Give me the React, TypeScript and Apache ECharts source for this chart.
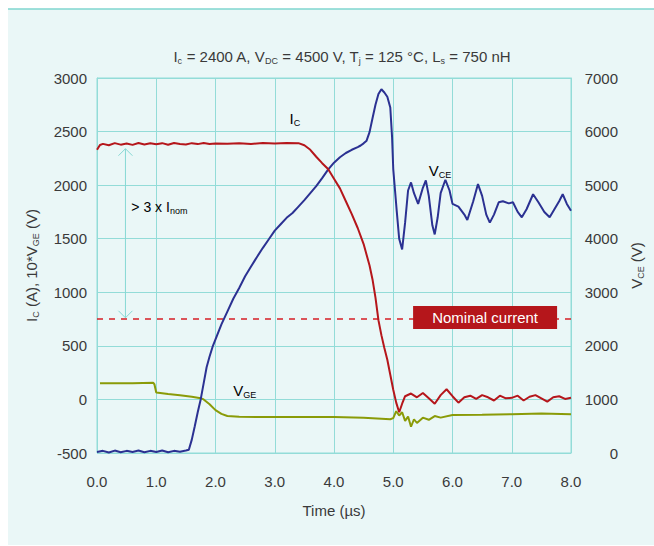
import React, { useEffect, useRef } from "react";
import * as echarts from "echarts";

// ---- Data ----
const timeTicks = [0, 1, 2, 3, 4, 5, 6, 7, 8];

// Collector current Ic (A) – left axis
const icTime = [0.0, 0.05, 0.1, 0.2, 0.3, 0.4, 0.5, 0.6, 0.7, 0.8, 0.9, 1.0, 1.1, 1.2, 1.3, 1.4, 1.5, 1.6, 1.7, 1.8, 1.9, 2.0, 2.2, 2.4, 2.6, 2.8, 3.0, 3.2, 3.4, 3.5, 3.6, 3.7, 3.8, 3.9, 4.0, 4.1, 4.2, 4.3, 4.4, 4.5, 4.6, 4.65, 4.7, 4.75, 4.8, 4.85, 4.9, 4.95, 5.0, 5.05, 5.1, 5.15, 5.2, 5.3, 5.4, 5.5, 5.6, 5.7, 5.8, 5.9, 6.0, 6.1, 6.2, 6.3, 6.4, 6.5, 6.6, 6.7, 6.8, 6.9, 7.0, 7.1, 7.2, 7.3, 7.4, 7.5, 7.6, 7.7, 7.8, 7.9, 8.0];
const icValues = [2330, 2375, 2385, 2372, 2392, 2378, 2388, 2376, 2394, 2380, 2390, 2382, 2392, 2377, 2394, 2384, 2380, 2392, 2383, 2394, 2385, 2389, 2386, 2392, 2384, 2394, 2388, 2394, 2392, 2372, 2330, 2265, 2205, 2150, 2060, 1970, 1850, 1730, 1600, 1450, 1250, 1120, 950, 740, 600, 480, 370, 230, 90, -30, -120, -40, 30, 55, 20, 60, 10, -40, 40, 95, 30, -30, 20, 35, 5, 40, 20, -10, 35, 10, 15, 35, -10, 25, 40, 10, -20, 20, 30, 5, 15];

// 10 x gate voltage VGE (V) – left axis
const vgeTime = [0.05, 0.3, 0.6, 0.95, 0.97, 1.0, 1.2, 1.4, 1.6, 1.75, 1.8, 1.9, 2.0, 2.1, 2.2, 2.4, 3.0, 4.0, 4.5, 4.95, 5.0, 5.05, 5.1, 5.15, 5.2, 5.25, 5.3, 5.35, 5.4, 5.5, 5.6, 5.7, 5.8, 6.0, 6.5, 7.0, 7.5, 8.0];
const vgeValues = [150, 152, 150, 155, 140, 65, 50, 38, 25, 12, 0, -45, -100, -135, -155, -162, -165, -163, -172, -185, -175, -110, -150, -120, -200, -160, -255, -185, -220, -170, -190, -155, -170, -145, -142, -138, -132, -138];

// Collector-emitter voltage VCE (V) – right axis
const vceTime = [0.0, 0.1, 0.2, 0.3, 0.4, 0.5, 0.6, 0.7, 0.8, 0.9, 1.0, 1.1, 1.2, 1.3, 1.4, 1.5, 1.55, 1.6, 1.65, 1.7, 1.75, 1.8, 1.85, 1.9, 1.95, 2.0, 2.1, 2.2, 2.3, 2.4, 2.5, 2.6, 2.7, 2.8, 2.9, 3.0, 3.1, 3.2, 3.3, 3.4, 3.5, 3.6, 3.7, 3.8, 3.9, 4.0, 4.1, 4.2, 4.3, 4.4, 4.45, 4.5, 4.55, 4.6, 4.65, 4.7, 4.75, 4.8, 4.85, 4.9, 4.95, 4.98, 5.0, 5.03, 5.06, 5.1, 5.15, 5.2, 5.25, 5.3, 5.35, 5.42, 5.5, 5.55, 5.6, 5.66, 5.7, 5.75, 5.8, 5.88, 5.95, 6.0, 6.1, 6.2, 6.25, 6.35, 6.43, 6.5, 6.57, 6.63, 6.7, 6.78, 6.85, 6.95, 7.02, 7.1, 7.17, 7.25, 7.36, 7.45, 7.55, 7.64, 7.72, 7.8, 7.86, 7.93, 8.0];
const vceValues = [20, 40, 10, 45, 15, 40, 20, 45, 15, 40, 20, 45, 15, 40, 25, 45, 60, 250, 500, 760, 1000, 1300, 1600, 1800, 1980, 2120, 2400, 2640, 2880, 3080, 3300, 3480, 3660, 3830, 3990, 4150, 4270, 4390, 4480, 4600, 4720, 4850, 4980, 5130, 5290, 5420, 5520, 5600, 5660, 5710, 5740, 5780, 5830, 5990, 6250, 6500, 6700, 6790, 6730, 6650, 6450, 5900, 5300, 4900, 4500, 4000, 3800, 4300, 4900, 5050, 4850, 4650, 4950, 5090, 4800, 4250, 4080, 4400, 4850, 5100, 4900, 4650, 4600, 4450, 4350, 4700, 5020, 4800, 4450, 4300, 4450, 4680, 4700, 4660, 4680, 4500, 4400, 4550, 4830, 4680, 4500, 4400, 4550, 4700, 4830, 4650, 4520];

const nominalCurrent = 750;
const leftTicks = { min: -500, max: 3000, interval: 500 };
const rightTicks = { min: 0, max: 7000, interval: 1000 };

const zip = (t: number[], v: number[]) => t.map((x, i) => [x, v[i]]);

const FONT = "Liberation Sans, Arial, sans-serif";
const TEXT = "#3a3a3a";
const GRID = "#93dcd8";
const RED = "#b5161b";
const BLUE = "#2b3192";
const OLIVE = "#8a9b08";

export default function App() {
  const ref = useRef<HTMLDivElement>(null);
  useEffect(() => {
    if (!ref.current) return;
    const chart = echarts.init(ref.current, undefined, { renderer: "svg" });
    const sub = { fontSize: 9, fontFamily: FONT, color: TEXT, fontWeight: "normal", padding: [9, 0, 0, 0] };
    const base = { fontSize: 15, fontFamily: FONT, color: TEXT, fontWeight: "normal" };
    chart.setOption({
      animation: false,
      backgroundColor: "#ffffff",
      textStyle: { fontFamily: FONT },
      title: {
        left: 337,
        top: 42,
        textAlign: "center",
        text: "{n|I}{s|c}{n| = 2400 A, V}{s|DC}{n| = 4500 V, T}{s|j}{n| = 125 °C, L}{s|s}{n| = 750 nH}",
        textStyle: { fontWeight: "normal", rich: { n: base, s: sub } },
      },
      grid: { left: 97, right: 83, top: 78, bottom: 93, show: true, borderColor: GRID, borderWidth: 1, backgroundColor: "transparent" },
      xAxis: {
        type: "value",
        min: timeTicks[0],
        max: timeTicks[timeTicks.length - 1],
        interval: 1,
        name: "Time (µs)",
        nameLocation: "middle",
        nameGap: 50,
        nameTextStyle: { fontSize: 15, color: TEXT, fontFamily: FONT },
        axisLine: { lineStyle: { color: GRID } },
        axisTick: { show: false },
        axisLabel: { fontSize: 15, color: TEXT, margin: 21, formatter: (v: number) => v.toFixed(1) },
        splitLine: { show: true, lineStyle: { color: GRID, width: 1 } },
      },
      yAxis: [
        {
          type: "value",
          ...leftTicks,
          position: "left",
          name: "{n|I}{s|C}{n| (A), 10*V}{s|GE}{n| (V)}",
          nameLocation: "middle",
          nameRotate: 90,
          nameGap: 57,
          nameTextStyle: { rich: { n: base, s: sub } },
          axisLine: { show: true, lineStyle: { color: GRID } },
          axisTick: { show: false },
          axisLabel: { fontSize: 15, color: TEXT, margin: 10, formatter: (v: number) => String(v) },
          splitLine: { show: true, lineStyle: { color: GRID, width: 1 } },
        },
        {
          type: "value",
          ...rightTicks,
          position: "right",
          name: "{n|V}{s|CE}{n| (V)}",
          nameLocation: "middle",
          nameRotate: 90,
          nameGap: 55,
          nameTextStyle: { rich: { n: base, s: sub } },
          axisLine: { show: true, lineStyle: { color: GRID } },
          axisTick: { show: false },
          axisLabel: { fontSize: 15, color: TEXT, margin: 47, align: "right", formatter: (v: number) => String(v) },
          splitLine: { show: false },
        },
      ],
      series: [
        {
          name: "Nominal current",
          type: "line",
          yAxisIndex: 0,
          data: [[timeTicks[0], nominalCurrent], [timeTicks[timeTicks.length - 1], nominalCurrent]],
          showSymbol: false,
          silent: true,
          lineStyle: { color: "#d61f26", type: [6, 6], width: 1.5 },
          z: 1,
        },
        {
          name: "VGE",
          type: "line",
          yAxisIndex: 0,
          data: zip(vgeTime, vgeValues),
          showSymbol: false,
          lineStyle: { color: OLIVE, width: 2 },
          z: 2,
        },
        {
          name: "VCE",
          type: "line",
          yAxisIndex: 1,
          data: zip(vceTime, vceValues),
          showSymbol: false,
          lineStyle: { color: BLUE, width: 2 },
          z: 3,
        },
        {
          name: "Ic",
          type: "line",
          yAxisIndex: 0,
          data: zip(icTime, icValues),
          showSymbol: false,
          lineStyle: { color: RED, width: 2 },
          z: 4,
        },
      ],
    });

    const px = (x: number, y: number) => chart.convertToPixel({ xAxisIndex: 0, yAxisIndex: 0 }, [x, y]) as number[];
    const pxR = (x: number, y: number) => chart.convertToPixel({ xAxisIndex: 0, yAxisIndex: 1 }, [x, y]) as number[];
    const aTop = px(0.48, 2340);
    const aBot = px(0.48, 762);
    const ah = 7;
    const nomPt = px(6.55, nominalCurrent);
    const icLbl = px(3.25, 2620);
    const vceLbl = pxR(5.6, 5270);
    const vgeLbl = px(2.3, 85);
    const inomLbl = px(0.58, 1800);

    chart.setOption({
      graphic: [
        { type: "rect", z: -10, silent: true, shape: { x: 8, y: 9, width: 646, height: 536 }, style: { fill: "#eaf7f7" } },
        { type: "line", z: -9, silent: true, shape: { x1: 8, y1: 9, x2: 654, y2: 9 }, style: { stroke: "#7fd6cf", lineWidth: 1.5 } },
        { type: "line", silent: true, shape: { x1: aTop[0], y1: aTop[1], x2: aBot[0], y2: aBot[1] }, style: { stroke: "#86d8d4", lineWidth: 1 } },
        { type: "polyline", silent: true, shape: { points: [[aTop[0] - ah, aTop[1] + ah], [aTop[0], aTop[1]], [aTop[0] + ah, aTop[1] + ah]] }, style: { stroke: "#86d8d4", lineWidth: 1, fill: "none" } },
        { type: "polyline", silent: true, shape: { points: [[aBot[0] - ah, aBot[1] - ah], [aBot[0], aBot[1]], [aBot[0] + ah, aBot[1] - ah]] }, style: { stroke: "#86d8d4", lineWidth: 1, fill: "none" } },
        {
          type: "text", silent: true, x: inomLbl[0], y: inomLbl[1],
          style: { text: "{n|> 3 x I}{s|nom}", rich: { n: { ...base, fontSize: 14 }, s: sub }, verticalAlign: "middle" },
        },
        {
          type: "text", silent: true, x: icLbl[0], y: icLbl[1],
          style: { text: "{n|I}{s|C}", rich: { n: base, s: sub }, verticalAlign: "middle" },
        },
        {
          type: "text", silent: true, x: vceLbl[0], y: vceLbl[1],
          style: { text: "{n|V}{s|CE}", rich: { n: base, s: sub }, verticalAlign: "middle" },
        },
        {
          type: "text", silent: true, x: vgeLbl[0], y: vgeLbl[1],
          style: { text: "{n|V}{s|GE}", rich: { n: base, s: sub }, verticalAlign: "middle" },
        },
        {
          type: "group", x: nomPt[0], y: nomPt[1], z: 50,
          children: [
            { type: "rect", z: 50, silent: true, shape: { x: -72, y: -13, width: 144, height: 23 }, style: { fill: RED } },
            { type: "text", z: 51, silent: true, x: 0, y: -1.5, style: { text: "Nominal current", fill: "#ffffff", fontSize: 15, fontFamily: FONT, align: "center", verticalAlign: "middle" } },
          ],
        },
      ],
    });

    return () => chart.dispose();
  }, []);

  return <div ref={ref} style={{ position: "fixed", left: 0, top: 0, width: 654, height: 546 }} />;
}
